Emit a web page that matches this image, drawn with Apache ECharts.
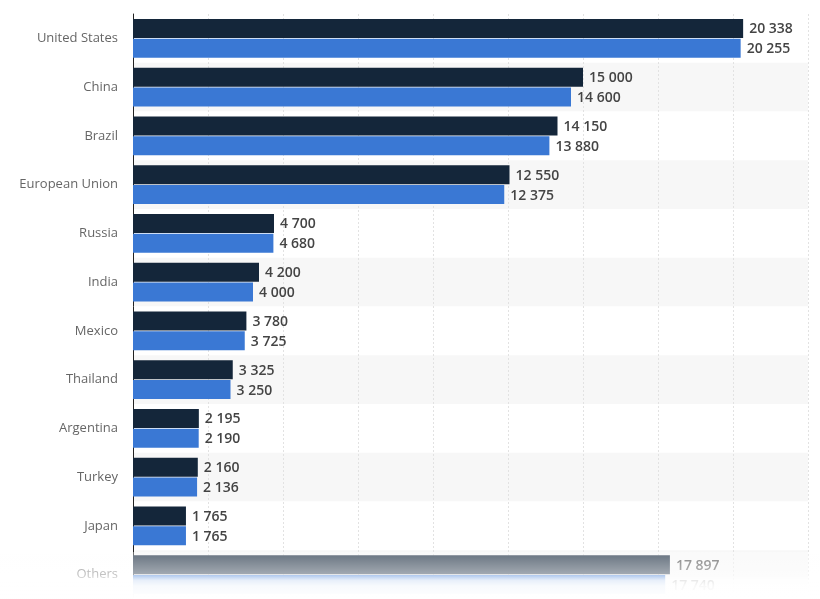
<!DOCTYPE html>
<html><head><meta charset="utf-8">
<script src="https://cdn.jsdelivr.net/npm/echarts@6/dist/echarts.min.js"></script>
<style>html,body{margin:0;padding:0;background:#fff}#c{width:820px;height:599px}</style>
</head><body><div id="c"></div>
<script>
const categories = ['United States','China','Brazil','European Union','Russia','India','Mexico','Thailand','Argentina','Turkey','Japan','Others'];
const seriesDark = [20338,15000,14150,12550,4700,4200,3780,3325,2195,2160,1765,17897];
const seriesBlue = [20255,14600,13880,12375,4680,4000,3725,3250,2190,2136,1765,17740];
const xTicks = {min:0, max:22500, interval:2500};

const fmt = v => String(v).replace(/\B(?=(\d{3})+(?!\d))/g, ' ');
const chart = echarts.init(document.getElementById('c'), null, {renderer:'canvas'});
const lbl = {show:true, position:'right', distance:6, color:'#444', fontSize:14, fontWeight:600,
  fontFamily:'Open Sans', offset:[0,1], formatter: p => fmt(p.value)};
chart.setOption({
  animation:false,
  grid:{left:133, top:14, width:675, height:588, containLabel:false},
  xAxis:{type:'value', min:xTicks.min, max:xTicks.max, interval:xTicks.interval,
    axisLabel:{show:false}, axisLine:{show:false}, axisTick:{show:false},
    splitLine:{show:true, lineStyle:{color:'#e2e2e2', type:[2,2], width:1}}},
  yAxis:{type:'category', data:categories, inverse:true,
    axisLine:{show:true, lineStyle:{color:'#222', width:1}}, axisTick:{show:false},
    axisLabel:{color:'#666', fontSize:13, fontFamily:'Open Sans', margin:15},
    splitArea:{show:true, areaStyle:{color:['#ffffff','#f7f7f7']}}},
  series:[
    {type:'bar', data:seriesDark, barWidth:19, barGap:'5%', itemStyle:{color:'#14263a'}, label:lbl},
    {type:'bar', data:seriesBlue, barWidth:19, barGap:'5%', itemStyle:{color:'#3a78d4'}, label:lbl}
  ],
  graphic:[{type:'rect', z:100, silent:true, shape:{x:0, y:552, width:820, height:47},
    style:{fill:new echarts.graphic.LinearGradient(0,0,0,1,[
      {offset:0, color:'rgba(255,255,255,0.35)'},
      {offset:0.106, color:'rgba(255,255,255,0.4)'},
      {offset:0.5, color:'rgba(255,255,255,0.62)'},
      {offset:0.6, color:'rgba(255,255,255,0.88)'},
      {offset:0.72, color:'rgba(255,255,255,0.96)'},
      {offset:1, color:'rgba(255,255,255,1)'}])}}]
});
</script></body></html>
